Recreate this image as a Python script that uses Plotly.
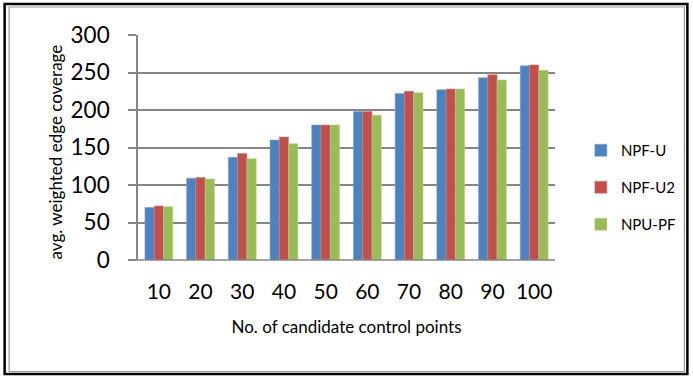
import plotly.graph_objects as go

categories = ["10", "20", "30", "40", "50", "60", "70", "80", "90", "100"]
npf_u = [70, 109, 137, 160, 180, 198, 222, 227, 243, 259]
npf_u2 = [72, 110, 142, 164, 180, 198, 225, 228, 247, 260]
npu_pf = [71, 108, 135, 155, 180, 193, 223, 228, 240, 253]
y_ticks = [0, 50, 100, 150, 200, 250, 300]

series = [("NPF-U", npf_u, "#4F81BD", "#7EA3D2"),
          ("NPF-U2", npf_u2, "#C0504D", "#D27F7D"),
          ("NPU-PF", npu_pf, "#9BBB59", "#B8D08A")]

W, H = 693, 376
L, R, T, B = 138, 557, 35, 260
FONT = "Lato"

fig = go.Figure()
for i, (name, vals, col, edge) in enumerate(series):
    fig.add_trace(go.Bar(x=categories, y=vals, name=name, legendgroup=name,
                         marker=dict(color=col, line=dict(color=edge, width=0.6))))

def px(x):
    return (x - L) / (R - L)

def py(y):
    return (B - y) / (B - T)

shapes = [
    dict(type="rect", xref="paper", yref="paper", x0=px(4), x1=px(690), y0=py(4), y1=py(374),
         line=dict(color="black", width=2.5)),
    dict(type="rect", xref="paper", yref="paper", x0=px(8.5), x1=px(687), y0=py(7), y1=py(371.5),
         line=dict(color="#9a9a9a", width=1.2)),
    dict(type="line", xref="paper", yref="paper", x0=px(130), x1=1, y0=0, y1=0,
         line=dict(color="#868686", width=1.6)),
]

fig.update_layout(
    width=W, height=H,
    margin=dict(l=L, r=W - R, t=T, b=H - B, pad=0),
    paper_bgcolor="white", plot_bgcolor="white",
    barmode="group", bargap=0.333, bargroupgap=0,
    font=dict(family=FONT, color="black"),
    xaxis=dict(type="category", showgrid=False, showline=False, ticks="",
               tickfont=dict(size=21, family=FONT), ticklabelstandoff=17,
               title=dict(text="No. of candidate control points", font=dict(size=17, family=FONT),
                          standoff=19)),
    yaxis=dict(range=[0, 300], tickvals=y_ticks, showgrid=True, gridcolor="#868686", gridwidth=1.6,
               showline=True, linecolor="#868686", linewidth=1.6, ticks="outside", ticklen=8,
               tickcolor="#868686", tickwidth=1.6, tickfont=dict(size=22.5, family=FONT),
               ticklabelstandoff=14, zeroline=False),
    legend=dict(x=px(583), y=py(134), xanchor="left", yanchor="top", xref="paper", yref="paper",
                font=dict(size=15, family=FONT), tracegroupgap=14.5, bgcolor="rgba(0,0,0,0)",
                itemwidth=30),
    shapes=shapes,
    annotations=[dict(text="avg. weighted edge coverage", xref="paper", yref="paper",
                      x=px(55), y=py(152), xanchor="center", yanchor="middle",
                      textangle=-90, showarrow=False,
                      font=dict(size=17, family=FONT))],
)

fig.write_html("out.html", config={"displayModeBar": False},
               post_script="document.body.style.margin='0';document.body.style.overflow='hidden';")
